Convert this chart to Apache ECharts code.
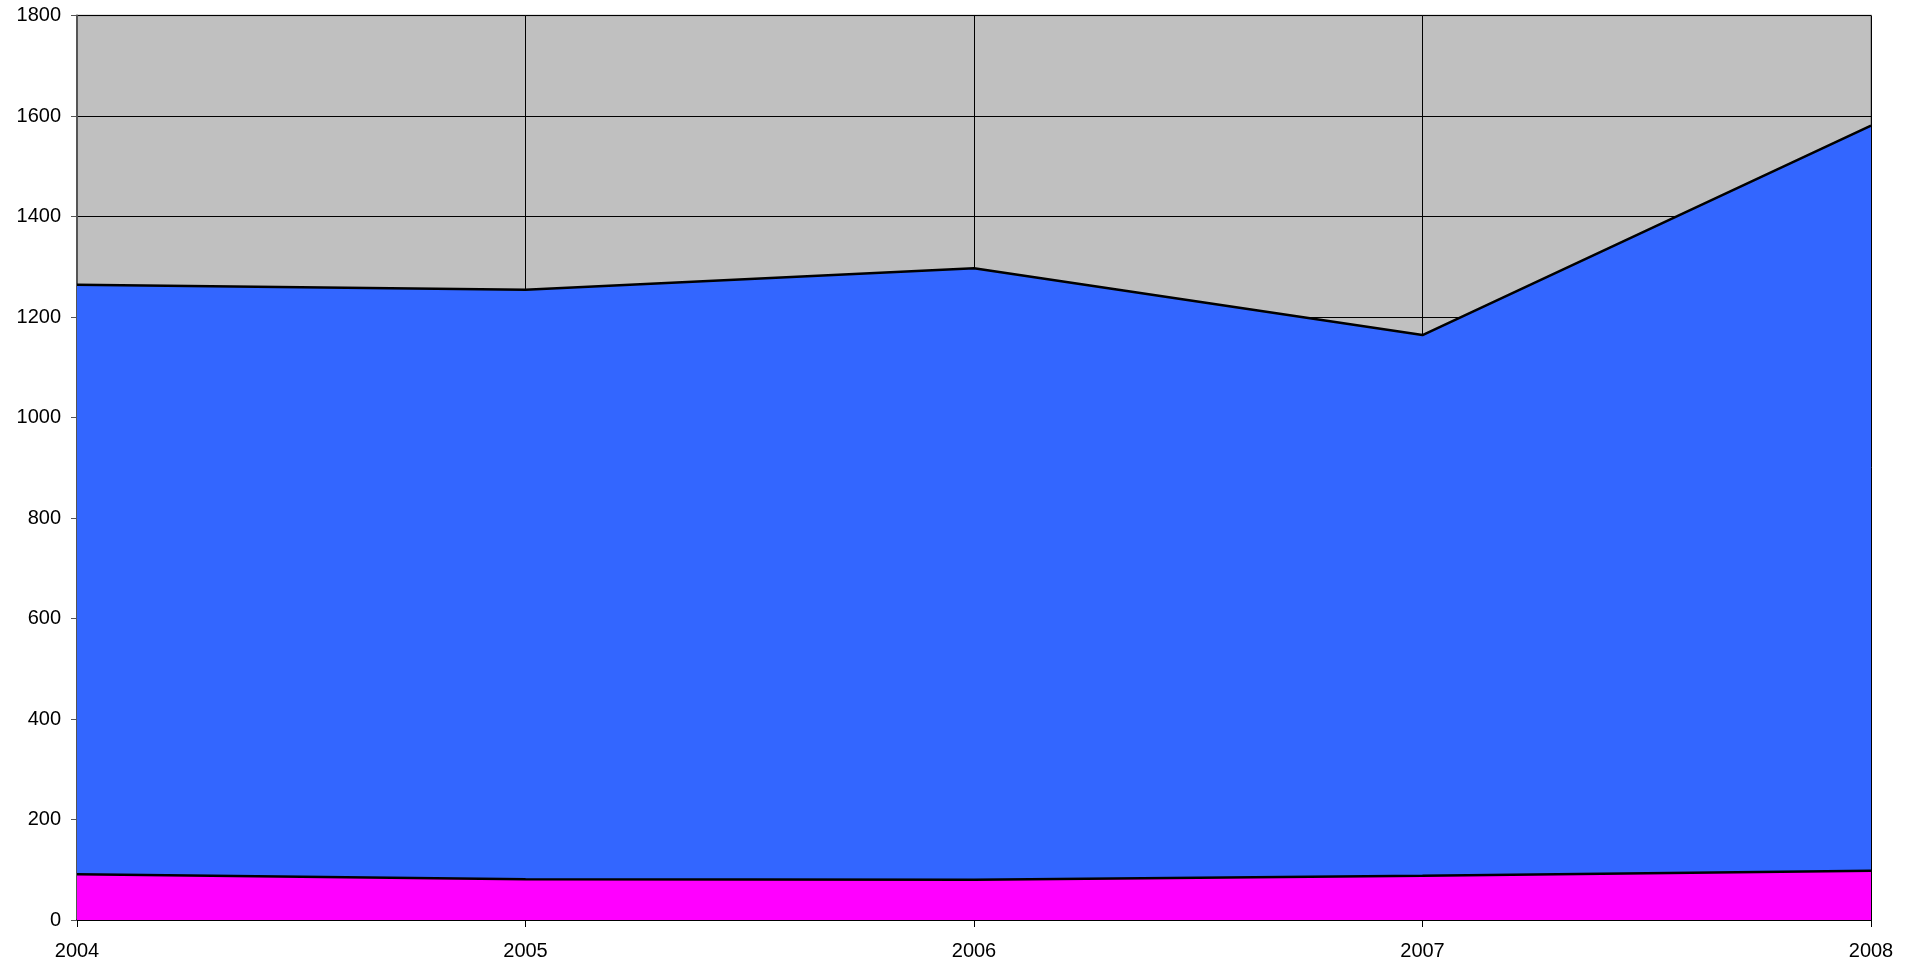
<!DOCTYPE html>
<html><head><meta charset="utf-8">
<script src="https://cdn.jsdelivr.net/npm/echarts@6/dist/echarts.min.js"></script>
<style>html,body{margin:0;padding:0;background:#fff}#c{width:1910px;height:968px}</style>
</head><body><div id="c"></div>
<script>
const years = ['2004','2005','2006','2007','2008'];
const pinkValues = [91, 81, 80, 88, 98];
const blueValues = [1173, 1173, 1217, 1076, 1483];
const yTicks = [0,200,400,600,800,1000,1200,1400,1600,1800];

const chart = echarts.init(document.getElementById('c'));
const font = 'Liberation Sans, Arial, sans-serif';
chart.setOption({
  animation: false,
  grid: {left: 77, right: 39, top: 15.5, bottom: 48, show: true, backgroundColor: '#C0C0C0', borderColor: '#8a8a8a', borderWidth: 1.5},
  xAxis: {
    type: 'category', data: years, boundaryGap: false,
    axisLine: {show: true, lineStyle: {color: '#000', width: 1.5}},
    axisTick: {show: true, length: 7, lineStyle: {color: '#000'}},
    axisLabel: {color: '#000', fontFamily: font, fontSize: 20, margin: 21},
    splitLine: {show: true, lineStyle: {color: '#000', width: 1}}
  },
  yAxis: {
    type: 'value', min: 0, max: 1800, interval: 200,
    axisLine: {show: true, lineStyle: {color: '#555', width: 2}},
    axisTick: {show: true, length: 6, lineStyle: {color: '#555'}},
    axisLabel: {color: '#000', fontFamily: font, fontSize: 20, margin: 16,
      formatter: v => yTicks.includes(v) ? String(v) : ''},
    splitLine: {show: true, lineStyle: {color: '#000', width: 1}}
  },
  series: [
    {type: 'line', stack: 'a', data: pinkValues, symbol: 'none',
     lineStyle: {color: '#000', width: 2.5}, areaStyle: {color: '#FF00FF', opacity: 1}},
    {type: 'line', stack: 'a', data: blueValues, symbol: 'none',
     lineStyle: {color: '#000', width: 2.5}, areaStyle: {color: '#3366FF', opacity: 1}}
  ]
});
</script></body></html>
